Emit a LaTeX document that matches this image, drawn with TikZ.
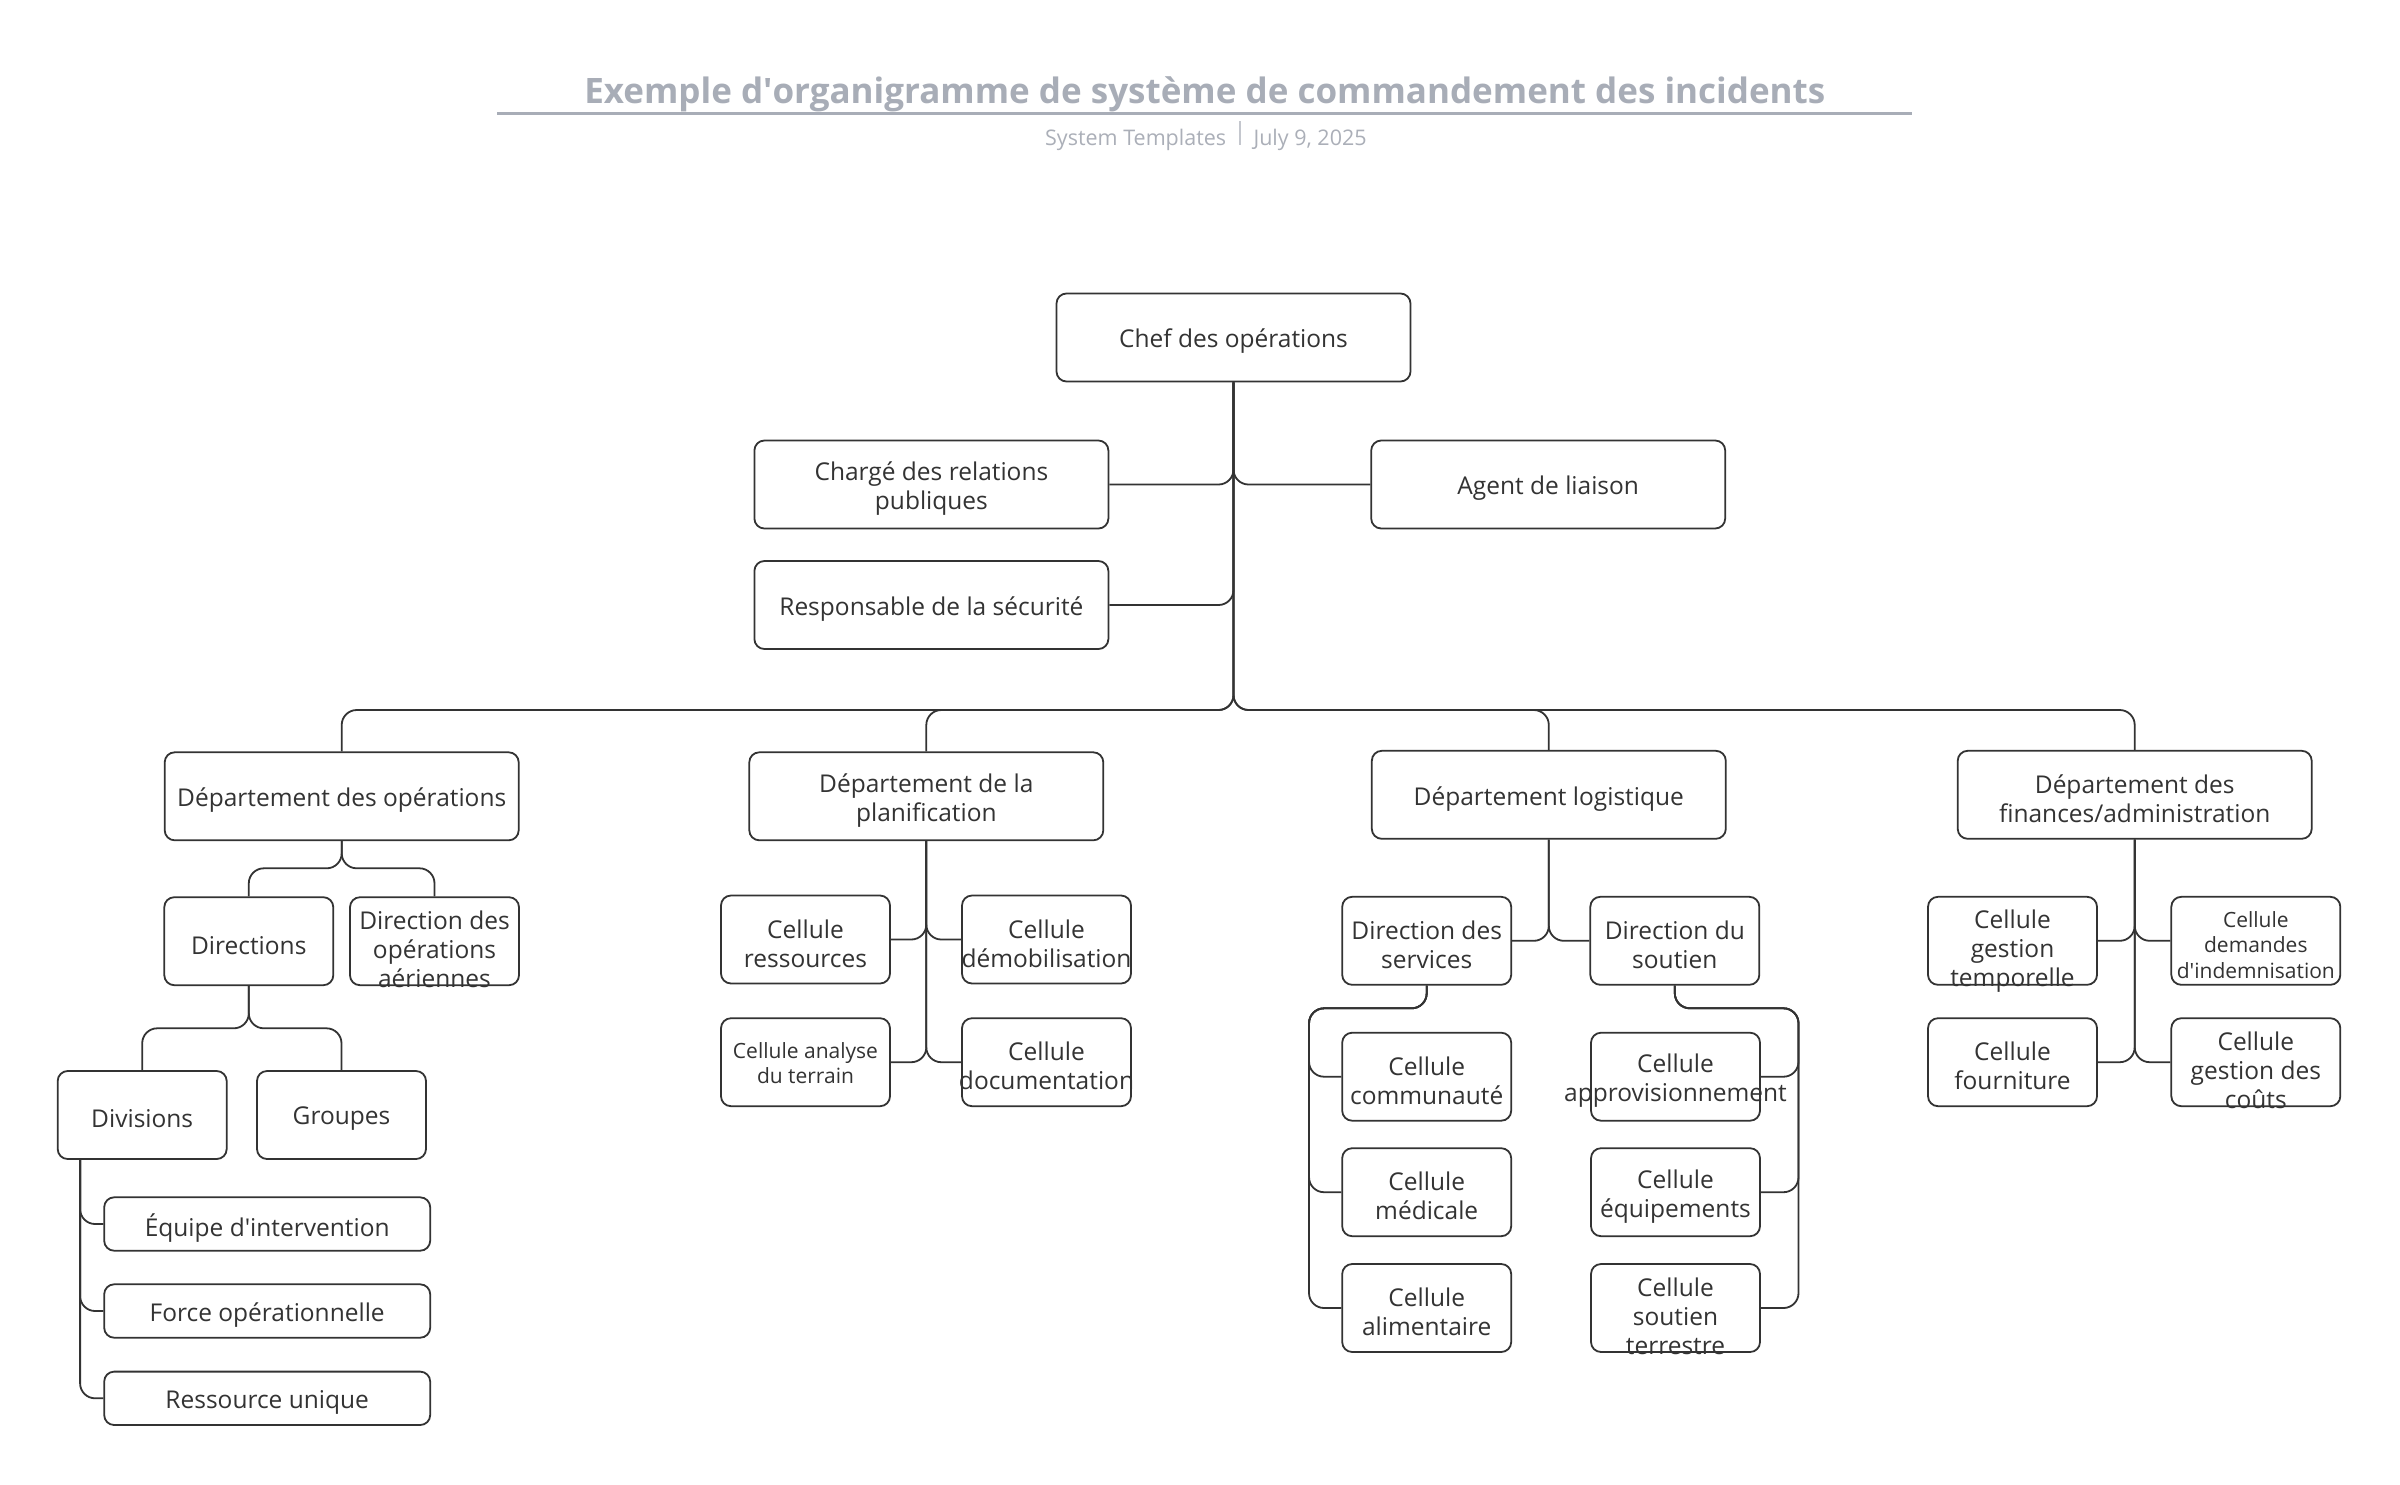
\documentclass[tikz,border=0pt]{standalone}
\usepackage{fontspec}
\setmainfont{Open Sans}
\definecolor{ink}{HTML}{333333}
\definecolor{titlegray}{HTML}{A8ADB7}
\definecolor{subgray}{HTML}{ABAFB8}
\definecolor{sepgray}{HTML}{C4C7CE}
\tikzset{
  box/.style={draw=ink, line width=1.8pt, rounded corners=10pt, minimum width=354pt, minimum height=88pt, inner sep=0pt},
  sbox/.style={box, minimum width=169pt},
  wbox/.style={box, minimum width=326pt, minimum height=53.4pt},
  tbase/.style={text=ink, align=center, inner sep=0pt},
  txt/.style={tbase, font=\fontsize{24.5}{29}\selectfont, yshift=-4pt},
  txtthree/.style={tbase, font=\fontsize{24.5}{29}\selectfont, yshift=-8pt},
  stxt/.style={tbase, font=\fontsize{21}{25.5}\selectfont, yshift=-1pt},
  conn/.style={draw=ink, line width=1.8pt, rounded corners=15pt},
}
\begin{document}
\begin{tikzpicture}[x=1pt, y=-1pt]
\useasboundingbox[fill=white] (0,0) rectangle (2400,1484);

% title
\node[anchor=base, font=\bfseries\fontsize{35}{42}\selectfont, text=titlegray, inner sep=0pt] (title) at (1204.8,103.3) {Exemple d\textquotesingle organigramme de système de commandement des incidents};
\draw[titlegray, line width=2.8pt] (497,113.3) -- (1912,113.3);
\node[anchor=base, font=\fontsize{21.5}{26}\selectfont, text=subgray, inner sep=0pt] (subtitle) at (1205.9,145.5) {System Templates\hspace{13pt}{\color{sepgray}\rule[1pt]{1.3pt}{24pt}}\hspace{13pt}July 9, 2025};

% top level
\node[box, label={[txt]center:Chef des opérations}] (chef) at (1233.5,337.5) {};
\node[box, label={[txt]center:{Chargé des relations\\publiques}}] (charge) at (931.4,484.5) {};
\node[box, label={[txt]center:Agent de liaison}] (agent) at (1548.2,484.5) {};
\node[box, label={[txt]center:Responsable de la sécurité}] (resp) at (931.4,605) {};

% departments
\node[box, label={[txt]center:Département des opérations}] (depops) at (341.7,796.3) {};
\node[box, label={[txt]center:{Département de la\\planification}}] (depplan) at (926.3,796.3) {};
\node[box, label={[txt]center:Département logistique}] (deplog) at (1548.8,794.8) {};
\node[box, label={[txt]center:{Département des\\finances/administration}}] (depfin) at (2134.7,794.8) {};

% operations subtree
\node[sbox, label={[txt]center:Directions}] (dirs) at (248.8,941.2) {};
\node[sbox, label={[txtthree]center:{Direction des\\opérations\\aériennes}}] (air) at (434.5,941.2) {};
\node[sbox, label={[txt]center:Divisions}] (div) at (142.2,1115) {};
\node[sbox, label={[txt]center:Groupes}] (grp) at (341.5,1115) {};
\node[wbox, label={[txt]center:Équipe d\textquotesingle intervention}] (equipe) at (267.2,1224) {};
\node[wbox, label={[txt]center:Force opérationnelle}] (force) at (267.2,1311) {};
\node[wbox, label={[txt]center:Ressource unique}] (ress) at (267.2,1398.3) {};

% planning subtree
\node[sbox, label={[txt]center:{Cellule\\ressources}}] (cres) at (805.5,939.5) {};
\node[sbox, label={[txt]center:{Cellule\\démobilisation}}] (cdem) at (1046.5,939.5) {};
\node[sbox, label={[stxt]center:{Cellule analyse\\du terrain}}] (cana) at (805.5,1062.2) {};
\node[sbox, label={[txt]center:{Cellule\\documentation}}] (cdoc) at (1046.5,1062.2) {};

% logistics subtree
\node[sbox, label={[txt]center:{Direction des\\services}}] (dserv) at (1426.7,940.8) {};
\node[sbox, label={[txt]center:{Direction du\\soutien}}] (dsout) at (1674.8,940.8) {};
\node[sbox, label={[txt]center:{Cellule\\communauté}}] (ccom) at (1426.7,1076.7) {};
\node[sbox, label={[txt]center:{Cellule\\médicale}}] (cmed) at (1426.7,1192.2) {};
\node[sbox, label={[txt]center:{Cellule\\alimentaire}}] (calim) at (1426.7,1308) {};
\node[sbox, label={[txt]center:{Cellule\\approvisionnement}}] (capp) at (1675.5,1076.7) {};
\node[sbox, label={[txt]center:{Cellule\\équipements}}] (cequ) at (1675.5,1192.2) {};
\node[sbox, label={[txtthree]center:{Cellule\\soutien\\terrestre}}] (cst) at (1675.5,1308) {};

% finance subtree
\node[sbox, label={[txtthree,yshift=-2.5pt]center:{Cellule\\gestion\\temporelle}}] (cgt) at (2012.5,940.8) {};
\node[sbox, label={[stxt,yshift=-3pt]center:{Cellule\\demandes\\d\textquotesingle indemnisation}}] (cdi) at (2255.8,940.8) {};
\node[sbox, label={[txt]center:{Cellule\\fourniture}}] (cfo) at (2012.5,1062.2) {};
\node[sbox, label={[txtthree]center:{Cellule\\gestion des\\coûts}}] (cgc) at (2255.8,1062.2) {};

% helper coordinates
\coordinate (bus) at (0,710);
\coordinate (opsplit) at (0,868.3);
\coordinate (dirsplit) at (0,1028.3);
\coordinate (railL) at (1309,1008.3);
\coordinate (railR) at (1798.5,1008.3);

% connectors
\draw[conn] (chef.south) |- (charge.east);
\draw[conn] (chef.south) |- (agent.west);
\draw[conn] (chef.south) |- (resp.east);
\foreach \d in {depops,depplan,deplog,depfin}
  \draw[conn] (chef.south) |- (\d.north |- bus) -- (\d.north);

\draw[conn] (depops.south) |- (dirs.north |- opsplit) -- (dirs.north);
\draw[conn] (depops.south) |- (air.north |- opsplit) -- (air.north);
\draw[conn] (dirs.south) |- (div.north |- dirsplit) -- (div.north);
\draw[conn] (dirs.south) |- (grp.north |- dirsplit) -- (grp.north);
\foreach \c in {equipe,force,ress}
  \draw[conn] ([xshift=23.3pt]div.south west) |- (\c.west);

\draw[conn] (depplan.south) |- (cres.east);
\draw[conn] (depplan.south) |- (cdem.west);
\draw[conn] (depplan.south) |- (cana.east);
\draw[conn] (depplan.south) |- (cdoc.west);

\draw[conn] (deplog.south) |- (dserv.east);
\draw[conn] (deplog.south) |- (dsout.west);
\foreach \c in {ccom,cmed,calim}
  \draw[conn] (dserv.south) |- (railL) |- (\c.west);
\foreach \c in {capp,cequ,cst}
  \draw[conn] (dsout.south) |- (railR) |- (\c.east);

\draw[conn] (depfin.south) |- (cgt.east);
\draw[conn] (depfin.south) |- (cdi.west);
\draw[conn] (depfin.south) |- (cfo.east);
\draw[conn] (depfin.south) |- (cgc.west);
\end{tikzpicture}
\end{document}
